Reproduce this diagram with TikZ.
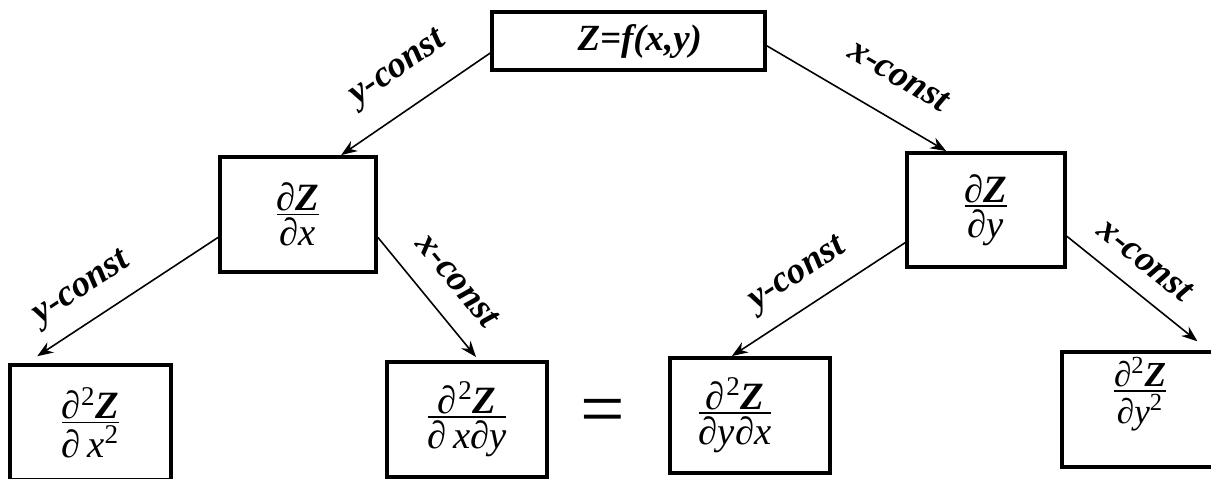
\documentclass[tikz,border=0pt]{standalone}
\usepackage{fontspec}
\setmainfont{Liberation Serif}
\usetikzlibrary{arrows.meta}

\newcommand{\pfrac}[2]{\vbox{\halign{\hfil##\hfil\cr#1\cr\noalign{\kern1.5pt\hrule height1pt\kern1.5pt}#2\cr}}}
\newcommand{\bZ}{\textbf{\textit{Z}}}
\newcommand{\sqr}{\textsuperscript{2}}

\begin{document}
\begin{tikzpicture}[
  x=0.02cm, y=-0.02cm,
  box/.style={draw, line width=2.2pt, inner sep=0pt, font=\fontsize{22}{26}\selectfont},
  arrow/.style={-{Stealth[length=0.32cm, width=0.24cm]}, line width=0.9pt},
  constlabel/.style={sloped, inner sep=0pt, font=\bfseries\itshape\fontsize{21}{25}\selectfont}
]
\useasboundingbox (0,0) rectangle (1211,478);

% --- function ---
\node[box, minimum width=5.46cm, minimum height=1.16cm, font=\bfseries\itshape\fontsize{21}{25}\selectfont] (fxy) at (628.5,41) {\hspace*{0.45cm}Z=f(x,y)};

% --- first derivatives ---
\node[box, minimum width=3.12cm, minimum height=2.3cm] (zx) at (298,214.5) {\pfrac{∂\bZ}{∂\textit{x}}};
\node[box, minimum width=3.16cm, minimum height=2.28cm] (zy) at (986,210) {\pfrac{∂\bZ}{∂\textit{y}}};

% --- second derivatives ---
\node[box, minimum width=3.22cm, minimum height=2.3cm] (zxx) at (90.5,422.5) {\pfrac{∂\sqr\bZ}{∂\,\textit{x}\sqr}};
\node[box, minimum width=3.2cm, minimum height=2.3cm] (zxy) at (467,419.5) {\pfrac{∂\kern1pt\sqr\bZ}{∂\,\textit{x}∂\textit{y}}};
\node[font=\fontsize{45}{50}\selectfont] (eq) at (602.5,417.5) {=};
\node[box, minimum width=3.2cm, minimum height=2.3cm] (zyx) at (750,415.5) {\pfrac{∂\kern1pt\sqr\bZ}{∂\textit{y}∂\textit{x}}\hspace*{0.6cm}};
\node[box, minimum width=3.12cm, minimum height=2.3cm, font=\fontsize{20}{24}\selectfont] (zyy) at (1140,409.5) {\raisebox{0.3cm}[\height][\depth]{\pfrac{∂\sqr\bZ}{∂\textit{y}\sqr}}};

% --- connectors ---
\draw[arrow] (fxy.185) -- node[constlabel, pos=0.47, above=0.46cm] {y-const} (zx.54);
\draw[arrow] (fxy.-2) -- node[constlabel, pos=0.62, above=0.6cm] {x-const} (zy.124);
\draw[arrow, shorten >=0.25cm] (zx.196) -- node[constlabel, pos=0.62, above=0.32cm] {y-const} (zxx.137);
\draw[arrow, shorten >=0.08cm] (zx.-16) -- node[constlabel, pos=0.53, above=0.46cm] {x-const} (zxy.79);
\draw[arrow] (zy.202) -- node[constlabel, pos=0.52, above=0.32cm] {y-const} (zyx.107);
\draw[arrow, shorten >=0.28cm] (zy.-18) -- node[constlabel, pos=0.42, above=0.38cm] {x-const} (zyy.41);

\end{tikzpicture}
\end{document}
